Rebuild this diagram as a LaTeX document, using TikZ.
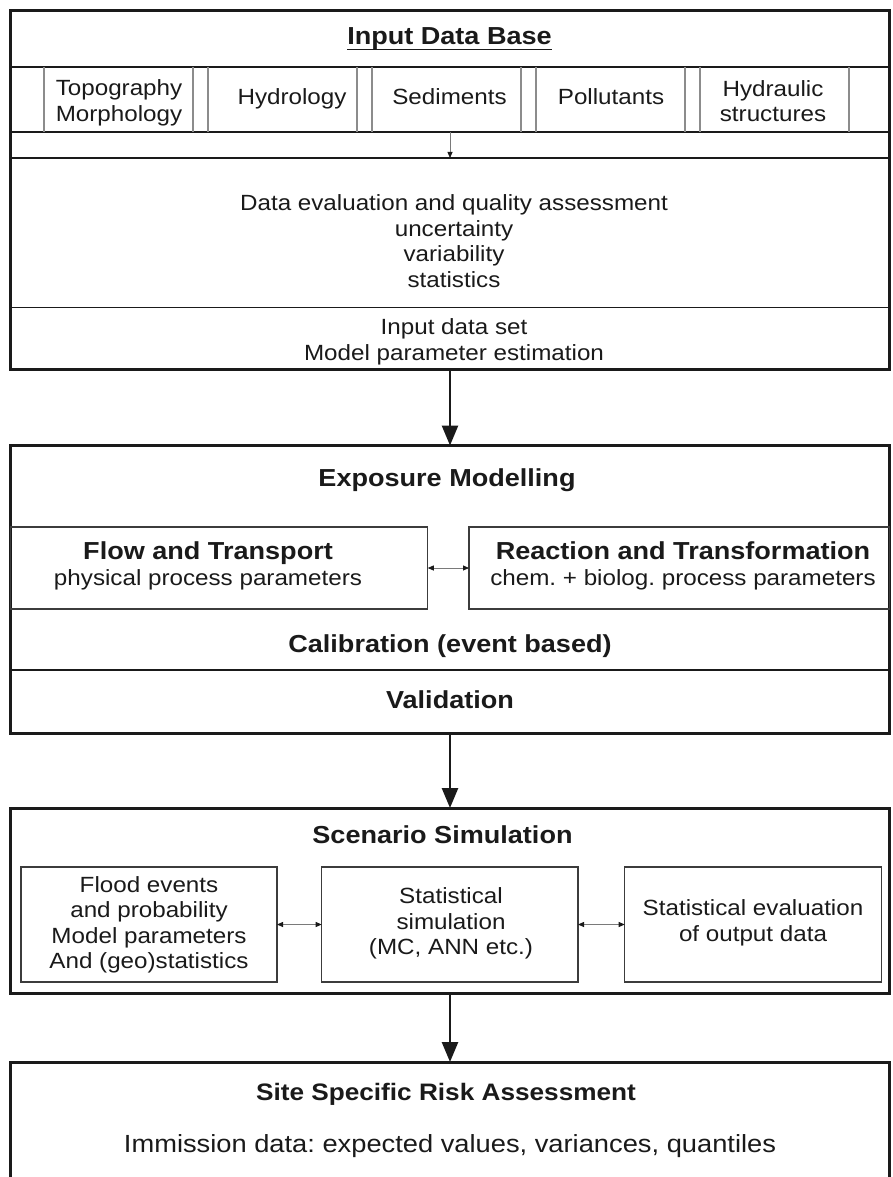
\documentclass[tikz,border=0pt]{standalone}
\usepackage{fontspec}
\setmainfont{Liberation Sans}[FakeStretch=1.1]
\usetikzlibrary{arrows.meta,calc}
\definecolor{ink}{HTML}{1A1A1A}
\definecolor{divgray}{HTML}{8C8C8C}
\definecolor{thingray}{HTML}{7A7A7A}
\frenchspacing
\begin{document}
\begin{tikzpicture}[x=1pt,y=-1pt,
  outer/.style={draw=ink,line width=3pt,inner sep=0pt,outer sep=0pt},
  sepline/.style={draw=ink,line width=1.8pt},
  divline/.style={draw=divgray,line width=1.2pt},
  subbox/.style={draw=ink!85,line width=1.4pt,inner sep=0pt,outer sep=0pt},
  txt/.style={text=ink,inner sep=0pt,align=center,font=\fontsize{22}{25.5}\selectfont},
  head/.style={text=ink,inner sep=0pt,anchor=base,font=\fontsize{24.6}{25.5}\selectfont\bfseries},
  bigarrow/.style={draw=ink,line width=2.6pt,-{Triangle[length=20pt,width=16pt]}},
  twoway/.style={draw=thingray,line width=0.8pt,{Triangle[length=6pt,width=5pt,color=ink]}-{Triangle[length=6pt,width=5pt,color=ink]}},
  oneway/.style={draw=thingray,line width=0.8pt,-{Triangle[length=6pt,width=5pt,color=ink]}}
]
\useasboundingbox (0,0) rectangle (893,1177);
\fill[white] (0,0) rectangle (893,1177);

% ---------------- Input Data Base ----------------
\node[outer,minimum width=879pt,minimum height=358.3pt] (inbase) at (450,189.85) {};
\node[head] (ttl) at (449.5,45) {Input Data Base};
\draw[ink,line width=1.4pt] ($(ttl.base west)+(0,4.3)$) -- ($(ttl.base east)+(0,4.3)$);
\draw[sepline] (10.5,67) -- (889.5,67);
\draw[sepline] (10.5,132) -- (889.5,132);
\draw[sepline] (10.5,158) -- (889.5,158);
\draw[sepline] (10.5,307.5) -- (889.5,307.5);
\foreach \xx in {44,193,208,357,372,521,536,685,700,849}
  \draw[divline] (\xx,67) -- (\xx,132);
\node[txt] (topo) at (119,103) {Topography\\Morphology};
\node[txt,anchor=base] (hydro) at (292,105) {Hydrology};
\node[txt,anchor=base] (sedi) at (449.5,105) {Sediments};
\node[txt,anchor=base] (poll) at (611,105) {Pollutants};
\node[txt] (hstruct) at (773,101) {Hydraulic\\structures};
\coordinate (sa) at (450,132);
\coordinate (sb) at (450,158);
\draw[oneway] (sa) -- (sb);
\node[txt] (dataeval) at (454,241) {Data evaluation and quality assessment\\uncertainty\\variability\\statistics};
\node[txt] (inset) at (454,342) {Input data set\\Model parameter estimation};

% ---------------- Exposure Modelling ----------------
\node[outer,minimum width=879pt,minimum height=287.8pt] (expo) at (450,589.4) {};
\node[head] (expt) at (447,486) {Exposure Modelling};
\node[subbox,minimum width=417pt,minimum height=82pt] (flow) at (219.25,568) {};
\node[subbox,minimum width=420.5pt,minimum height=82pt] (react) at (679.25,568) {};
\node[txt] (flowtxt) at (208,566) {{\fontsize{24.6}{25.5}\selectfont\bfseries Flow and Transport}\\physical process parameters};
\node[txt] (reacttxt) at (683,566) {{\fontsize{24.6}{25.5}\selectfont\bfseries Reaction and Transformation}\\chem. + biolog. process parameters};
\draw[twoway] (flow.east) -- (react.west);
\node[head] (calib) at (450,652) {Calibration (event based)};
\draw[sepline] (10.5,670) -- (889.5,670);
\node[head] (valid) at (450,708) {Validation};

% ---------------- Scenario Simulation ----------------
\node[outer,minimum width=879pt,minimum height=185.3pt] (scen) at (450,900.65) {};
\node[head] (scent) at (442.5,843) {Scenario Simulation};
\node[subbox,minimum width=256pt,minimum height=115pt] (b1) at (149,924.5) {};
\node[subbox,minimum width=256.3pt,minimum height=115pt] (b2) at (449.85,924.5) {};
\node[subbox,minimum width=256.6pt,minimum height=115pt] (b3) at (753,924.5) {};
\node[txt] (b1t) at (149,924.8) {Flood events\\and probability\\Model parameters\\And (geo)statistics};
\node[txt] (b2t) at (451,923.3) {Statistical\\simulation\\(MC, ANN etc.)};
\node[txt] (b3t) at (753,922.8) {Statistical evaluation\\of output data};
\draw[twoway] (b1.east) -- (b2.west);
\draw[twoway] (b2.east) -- (b3.west);

% ---------------- Site Specific Risk Assessment ----------------
\coordinate (risktop) at (450,1062);
\draw[ink,line width=3pt] (10.5,1185) -- (10.5,1062) -- (889.5,1062) -- (889.5,1185);
\node[text=ink,inner sep=0pt,anchor=base,font=\fontsize{23.8}{26}\selectfont\bfseries] (site) at (446,1100) {Site Specific Risk Assessment};
\node[text=ink,inner sep=0pt,anchor=base,font=\fontsize{24.8}{27}\selectfont] (immi) at (450,1152) {Immission data: expected values, variances, quantiles};

% ---------------- main arrows ----------------
\draw[bigarrow] (inbase.south) -- (expo.north);
\draw[bigarrow] (expo.south) -- (scen.north);
\draw[bigarrow] (scen.south) -- (risktop);
\end{tikzpicture}
\end{document}
